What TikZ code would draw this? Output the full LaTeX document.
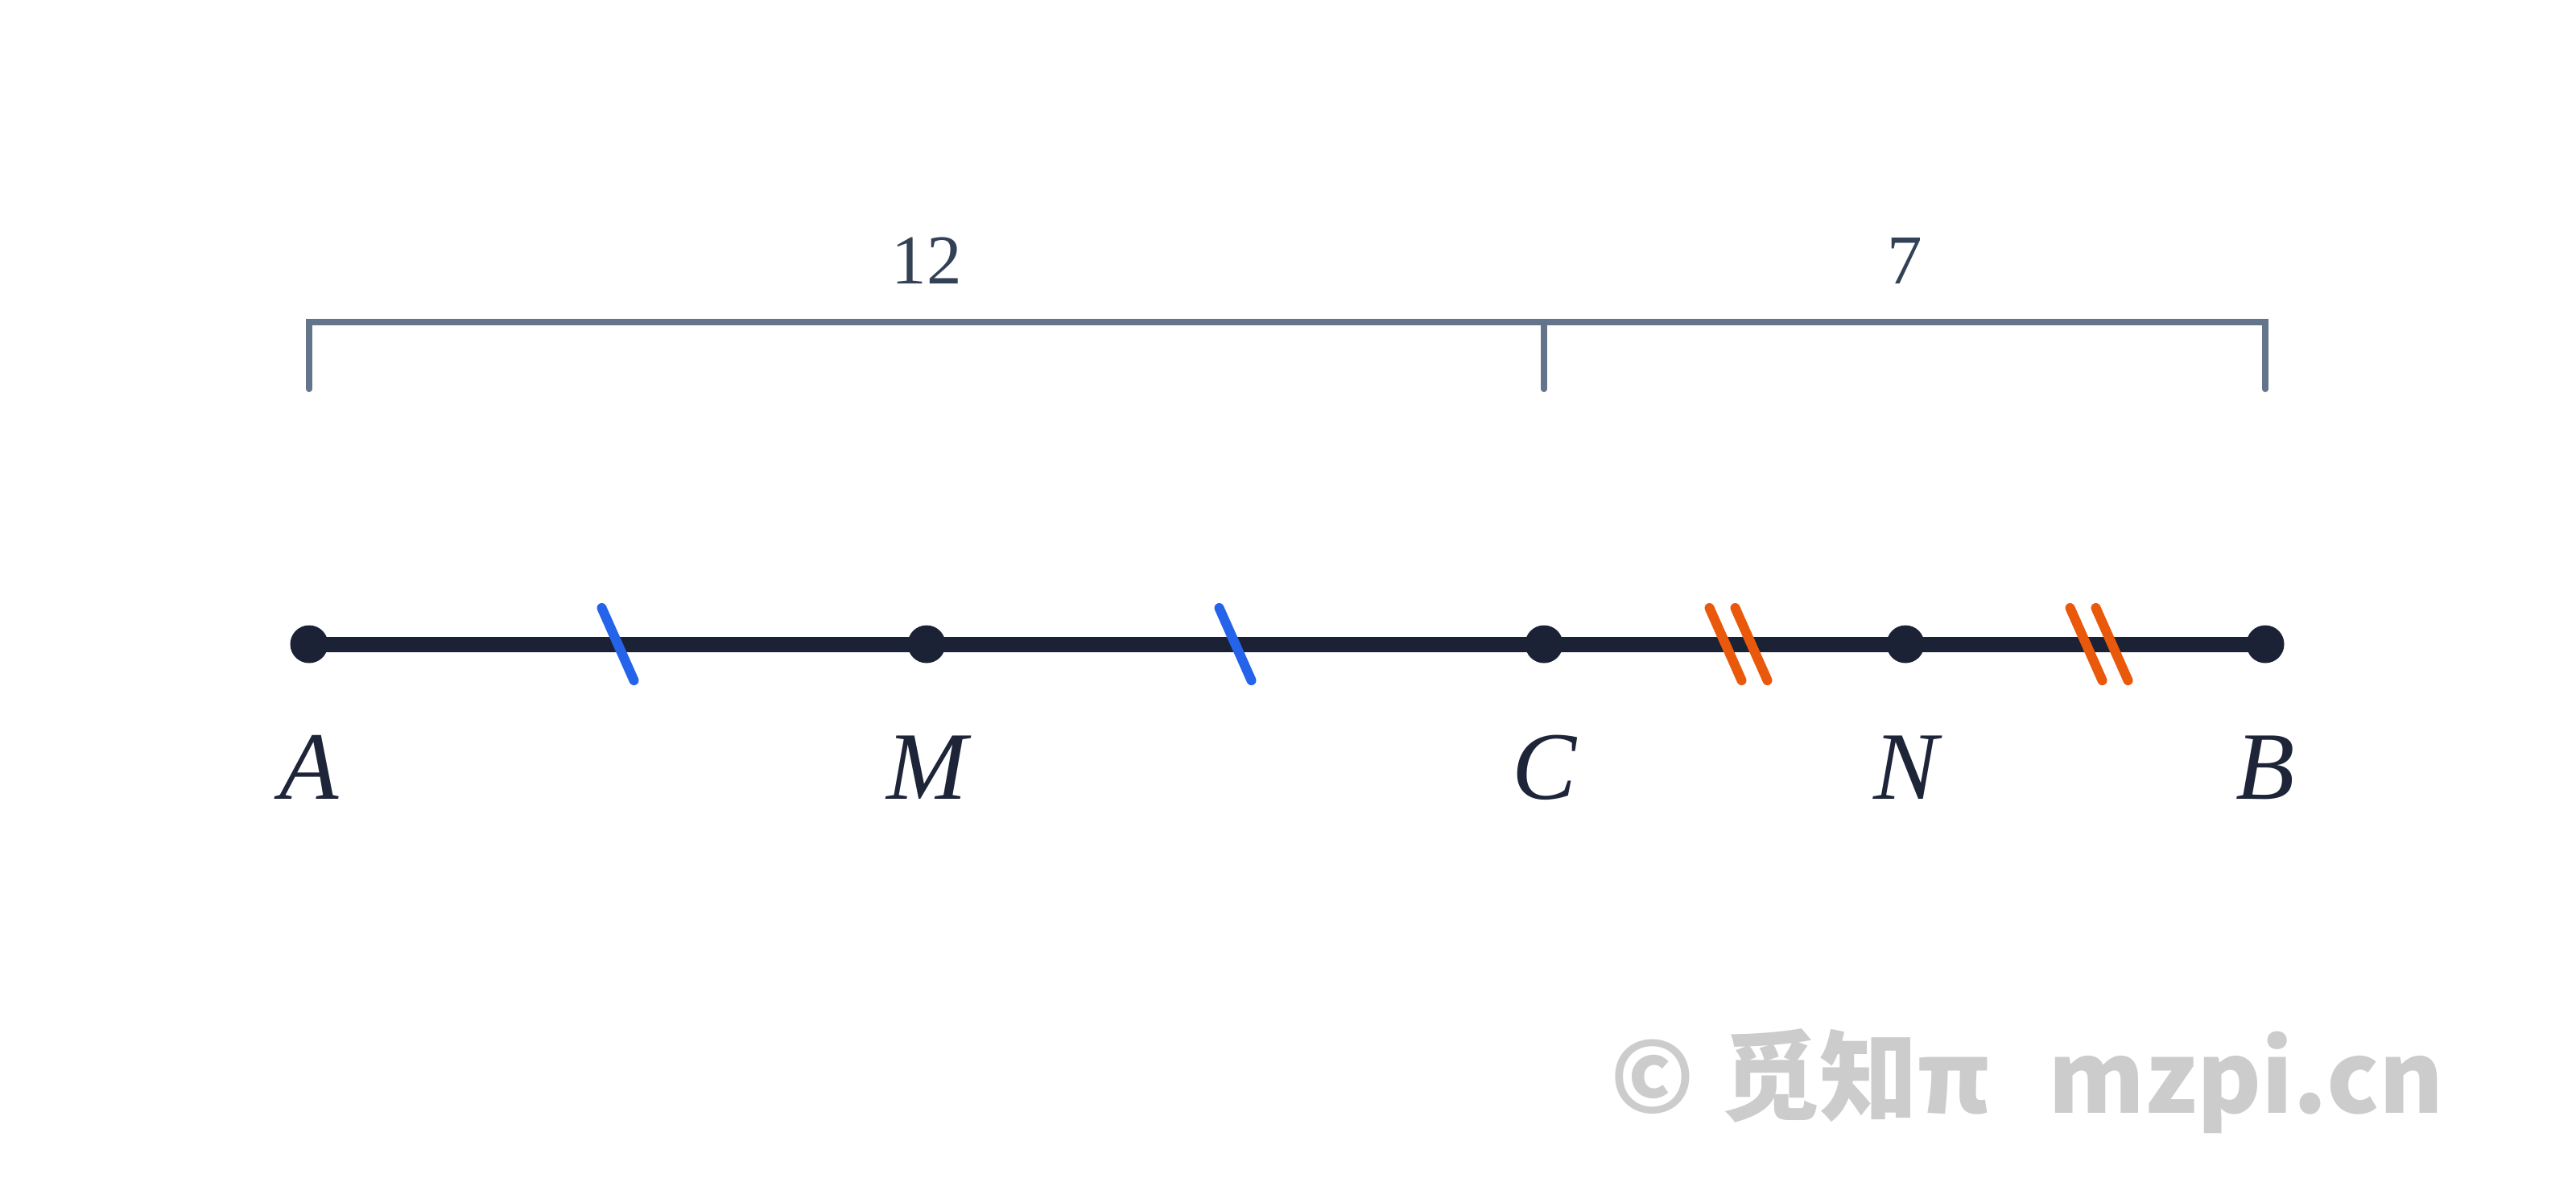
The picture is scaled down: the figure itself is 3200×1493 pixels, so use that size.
\documentclass[tikz,border=0pt]{standalone}
\usepackage{fontspec}
\setmainfont{Liberation Serif}
\newfontfamily\wmfont{Noto Sans CJK SC}
\usetikzlibrary{calc}
\definecolor{segcol}{HTML}{1C2236}
\definecolor{labcol}{HTML}{1E2538}
\definecolor{brcol}{HTML}{64748B}
\definecolor{numcol}{HTML}{334155}
\definecolor{tickblue}{HTML}{2563EB}
\definecolor{tickorange}{HTML}{EA580C}
\definecolor{wmcol}{HTML}{CCCCCC}
\tikzset{
  dotnode/.style={circle, fill=segcol, inner sep=0pt, minimum size=23.5pt},
  seg/.style={draw=segcol, line width=9.5pt},
  brack/.style={draw=brcol, line width=4pt, line cap=round, line join=miter},
  tickb/.style={draw=tickblue, line width=6pt, line cap=round},
  ticko/.style={draw=tickorange, line width=6pt, line cap=round},
  ptlab/.style={text=labcol, font=\fontsize{60}{72}\selectfont\itshape, inner sep=0pt, anchor=base},
  numlab/.style={text=numcol, font=\fontsize{43.5}{52}\selectfont, inner sep=0pt, anchor=base},
  wmlab/.style={text=wmcol, font=\fontsize{61}{72}\selectfont\wmfont\bfseries, inner sep=0pt, anchor=base west}
}
\begin{document}
\begin{tikzpicture}[x=0.5pt,y=-0.5pt]
\path[use as bounding box, fill=white] (0,0) rectangle (3200,1493);
% points
\coordinate (A) at (384,800);
\coordinate (M) at (1151,800);
\coordinate (C) at (1918,800);
\coordinate (N) at (2367,800);
\coordinate (B) at (2814,800);
% bracket
\coordinate (tA) at (384,400);
\coordinate (tC) at (1918,400);
\coordinate (tB) at (2814,400);
\coordinate (bA) at (384,483);
\coordinate (bC) at (1918,483);
\coordinate (bB) at (2814,483);
\draw[brack] (bA) -- (tA) -- (tB) -- (bB);
\draw[brack] (tC) -- (bC);
\node[numlab] (n12) at (1151,352) {12};
\node[numlab] (n7) at (2366,352) {7};
% main segment
\draw[seg] (A) -- (B);
% ticks
\coordinate (mAM) at ($(A)!0.5!(M)$);
\coordinate (mMC) at ($(M)!0.5!(C)$);
\coordinate (mCN) at ($(C)!0.5!(N)$);
\coordinate (mNB) at ($(N)!0.5!(B)$);
\draw[tickb] ($(mAM)+(-20,-45)$) -- ($(mAM)+(20,45)$);
\draw[tickb] ($(mMC)+(-20,-45)$) -- ($(mMC)+(20,45)$);
\draw[ticko] ($(mCN)+(-19,-45)$) -- ($(mCN)+(21,45)$);
\draw[ticko] ($(mCN)+(13,-45)$) -- ($(mCN)+(53,45)$);
\draw[ticko] ($(mNB)+(-19,-45)$) -- ($(mNB)+(21,45)$);
\draw[ticko] ($(mNB)+(13,-45)$) -- ($(mNB)+(53,45)$);
% dots
\node[dotnode] (dA) at (A) {};
\node[dotnode] (dM) at (M) {};
\node[dotnode] (dC) at (C) {};
\node[dotnode] (dN) at (N) {};
\node[dotnode] (dB) at (B) {};
% labels
\node[ptlab] (lA) at (384,992) {A};
\node[ptlab] (lM) at (1151,992) {M};
\node[ptlab] (lC) at (1918,992) {C};
\node[ptlab] (lN) at (2367,992) {N};
\node[ptlab] (lB) at (2814,992) {B};
% watermark
\node[wmlab] (wm1) at (2000,1382) {©};
\node[wmlab] (wm2) at (2138,1382) {觅知π};
\node[wmlab] (wm3) at (2544,1382) {mzpi.cn};
\end{tikzpicture}
\end{document}
